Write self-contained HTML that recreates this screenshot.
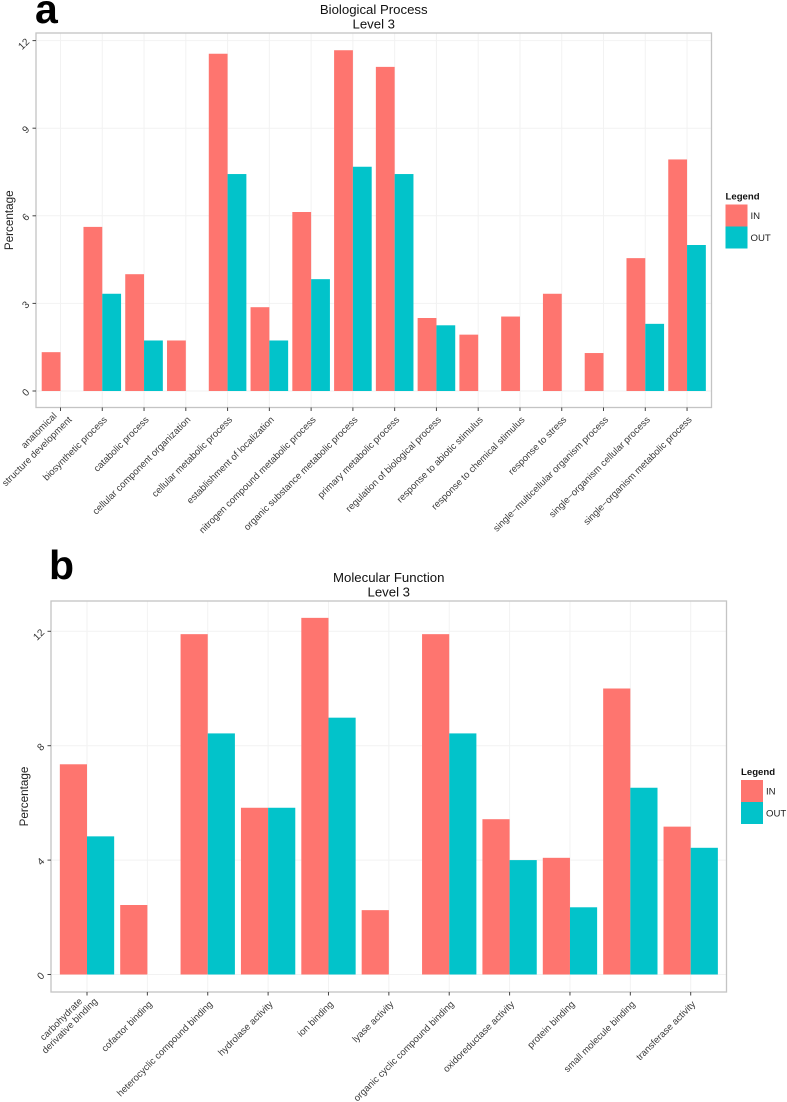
<!DOCTYPE html>
<html lang="en">
<head>
<meta charset="utf-8">
<title>Biological Process and Molecular Function Level 3</title>
<style>
html,body{margin:0;padding:0;background:#fff;}
#fig{display:block;width:787px;height:1102px;font-family:"Liberation Sans",sans-serif;}
</style>
</head>
<body>
<svg id="fig" xmlns="http://www.w3.org/2000/svg" width="787" height="1102" viewBox="0 0 787 1102"></svg>
<script>
const categoriesA = ["anatomical\nstructure development","biosynthetic process","catabolic process","cellular component organization","cellular metabolic process","establishment of localization","nitrogen compound metabolic process","organic substance metabolic process","primary metabolic process","regulation of biological process","response to abiotic stimulus","response to chemical stimulus","response to stress","single\u2212multicellular organism process","single\u2212organism cellular process","single\u2212organism metabolic process"];
const inValuesA = [1.33,5.62,4.0,1.73,11.55,2.87,6.13,11.67,11.1,2.5,1.93,2.55,3.33,1.3,4.55,7.93];
const outValuesA = [0,3.33,1.73,0,7.43,1.73,3.83,7.68,7.43,2.25,0,0,0,0,2.3,5.0];
const yTicksA = [0,3,6,9,12];

const categoriesB = ["carbohydrate\nderivative binding","cofactor binding","heterocyclic compound binding","hydrolase activity","ion binding","lyase activity","organic cyclic compound binding","oxidoreductase activity","protein binding","small molecule binding","transferase activity"];
const inValuesB = [7.35,2.43,11.9,5.83,12.47,2.25,11.9,5.43,4.08,10.0,5.17];
const outValuesB = [4.83,0,8.43,5.83,8.98,0,8.43,4.0,2.35,6.53,4.43];
const yTicksB = [0,4,8,12];

const legendLabels = ["IN","OUT"];
const seriesColors = ["#FE756F","#02C3CA"];

const svgNS = "http://www.w3.org/2000/svg";
const fig = document.getElementById("fig");

function make(tag, attrs, parent, text) {
  const el = document.createElementNS(svgNS, tag);
  for (const k in attrs) el.setAttribute(k, attrs[k]);
  if (text !== undefined) el.textContent = text;
  parent.appendChild(el);
  return el;
}

function drawPanel(cfg) {
  const g = make("g", {}, fig);
  
  

  const xScale = i => cfg.x0 + i * cfg.step;
  const yScale = v => cfg.y0 - v * cfg.unit;

  const tag = make("text", {x: cfg.tagX, y: cfg.tagY, "font-size": 41, "font-weight": "bold", fill: "#000"}, g, cfg.tag);
  
  

  const titleMid = (cfg.left + cfg.right) / 2;
  const t1 = make("text", {x: titleMid, y: cfg.titleY, "text-anchor": "middle", "font-size": 13.2, fill: "#111"}, g, cfg.title);
  
  
  const t2 = make("text", {x: titleMid, y: cfg.titleY + 14.5, "text-anchor": "middle", "font-size": 13.2, fill: "#111"}, g, "Level 3");
  
  

  const bg = make("rect", {x: cfg.left, y: cfg.top, width: cfg.right - cfg.left, height: cfg.bottom - cfg.top, fill: "#fff"}, g);
  
  

  cfg.yTicks.forEach(v => {
    const line = make("line", {x1: cfg.left, x2: cfg.right, y1: yScale(v), y2: yScale(v), stroke: "#f2f2f2", "stroke-width": 1}, g);
    
    
  });
  cfg.categories.forEach((c, i) => {
    const line = make("line", {x1: xScale(i), x2: xScale(i), y1: cfg.top, y2: cfg.bottom, stroke: "#f2f2f2", "stroke-width": 1}, g);
    
    
  });

  const barW = cfg.step * 0.45;
  cfg.categories.forEach((c, i) => {
    const pairs = [cfg.inValues[i], cfg.outValues[i]];
    pairs.forEach((v, s) => {
      if (v <= 0) return;
      const bar = make("rect", {x: xScale(i) - barW + s * barW, y: yScale(v), width: barW, height: yScale(0) - yScale(v), fill: seriesColors[s]}, g);
      
      
    });
  });

  const border = make("rect", {x: cfg.left, y: cfg.top, width: cfg.right - cfg.left, height: cfg.bottom - cfg.top, fill: "none", stroke: "#c4c4c4", "stroke-width": 1.3}, g);
  
  

  cfg.yTicks.forEach(v => {
    const y = yScale(v);
    const tick = make("line", {x1: cfg.left - 3.5, x2: cfg.left, y1: y, y2: y, stroke: "#444", "stroke-width": 1}, g);
    
    
    const lab = make("text", {x: 0, y: 0, "text-anchor": "end", "font-size": 10, fill: "#333", transform: "translate(" + (cfg.left - 6) + " " + (y + 1.8) + ") rotate(-45)"}, g, String(v));
    
    
  });

  const yMid = (cfg.top + cfg.bottom) / 2 + cfg.yTitleShift;
  const yTitle = make("text", {x: cfg.yTitleX, y: yMid, "text-anchor": "middle", "font-size": 11.7, fill: "#222", transform: "rotate(-90 " + cfg.yTitleX + " " + yMid + ")"}, g, "Percentage");
  
  

  cfg.categories.forEach((c, i) => {
    const x = xScale(i);
    const tick = make("line", {x1: x, x2: x, y1: cfg.bottom, y2: cfg.bottom + 3.5, stroke: "#444", "stroke-width": 1}, g);
    
    

    const lines = c.split("\n");
    const lab = make("text", {x: 0, y: 0, "text-anchor": "end", "font-size": 9.5, fill: "#3a3a3a", transform: "translate(" + (x + 5.3) + " " + (cfg.bottom + 12.8) + ") rotate(-45)"}, g);
    
    
    lines.forEach((ln, k) => {
      const off = lines.length > 1 ? cfg.wrapOffsets[k] : [0, 0];
      const sp = make("tspan", {x: off[0], y: off[1]}, lab, ln);
      
      
    });
  });

  const lg = make("g", {}, g);
  
  
  const lt = make("text", {x: cfg.legX, y: cfg.legY, "font-size": 9.6, "font-weight": "bold", fill: "#111"}, lg, "Legend");
  
  
  legendLabels.forEach((name, s) => {
    const key = make("rect", {x: cfg.legX, y: cfg.legY + 5 + s * 22, width: 22, height: 22, fill: seriesColors[s]}, lg);
    
    
    const lb = make("text", {x: cfg.legX + 25, y: cfg.legY + 19.5 + s * 22, "font-size": 9.6, fill: "#222"}, lg, name);
    
    
  });
}

drawPanel({
  id: "biological-process", tag: "a", tagX: 35, tagY: 23, title: "Biological Process", titleY: 14,
  categories: categoriesA, inValues: inValuesA, outValues: outValuesA, yTicks: yTicksA,
  left: 36, right: 711.5, top: 33, bottom: 407.5,
  x0: 60.5, step: 41.77, y0: 391, unit: 29.2,
  wrapOffsets: [[-3.2, -8.8], [4.6, 4.6]],
  yTitleX: 13, yTitleShift: 0, legX: 725.5, legY: 199.5
});
drawPanel({
  id: "molecular-function", tag: "b", tagX: 49, tagY: 579, title: "Molecular Function", titleY: 582,
  categories: categoriesB, inValues: inValuesB, outValues: outValuesB, yTicks: yTicksB,
  left: 51, right: 726.5, top: 601, bottom: 992,
  x0: 87, step: 60.37, y0: 974.5, unit: 28.6,
  wrapOffsets: [[-4.5, -8.7], [6.1, 1.9]],
  yTitleX: 28, yTitleShift: 0, legX: 741, legY: 775
});
</script>
</body>
</html>
